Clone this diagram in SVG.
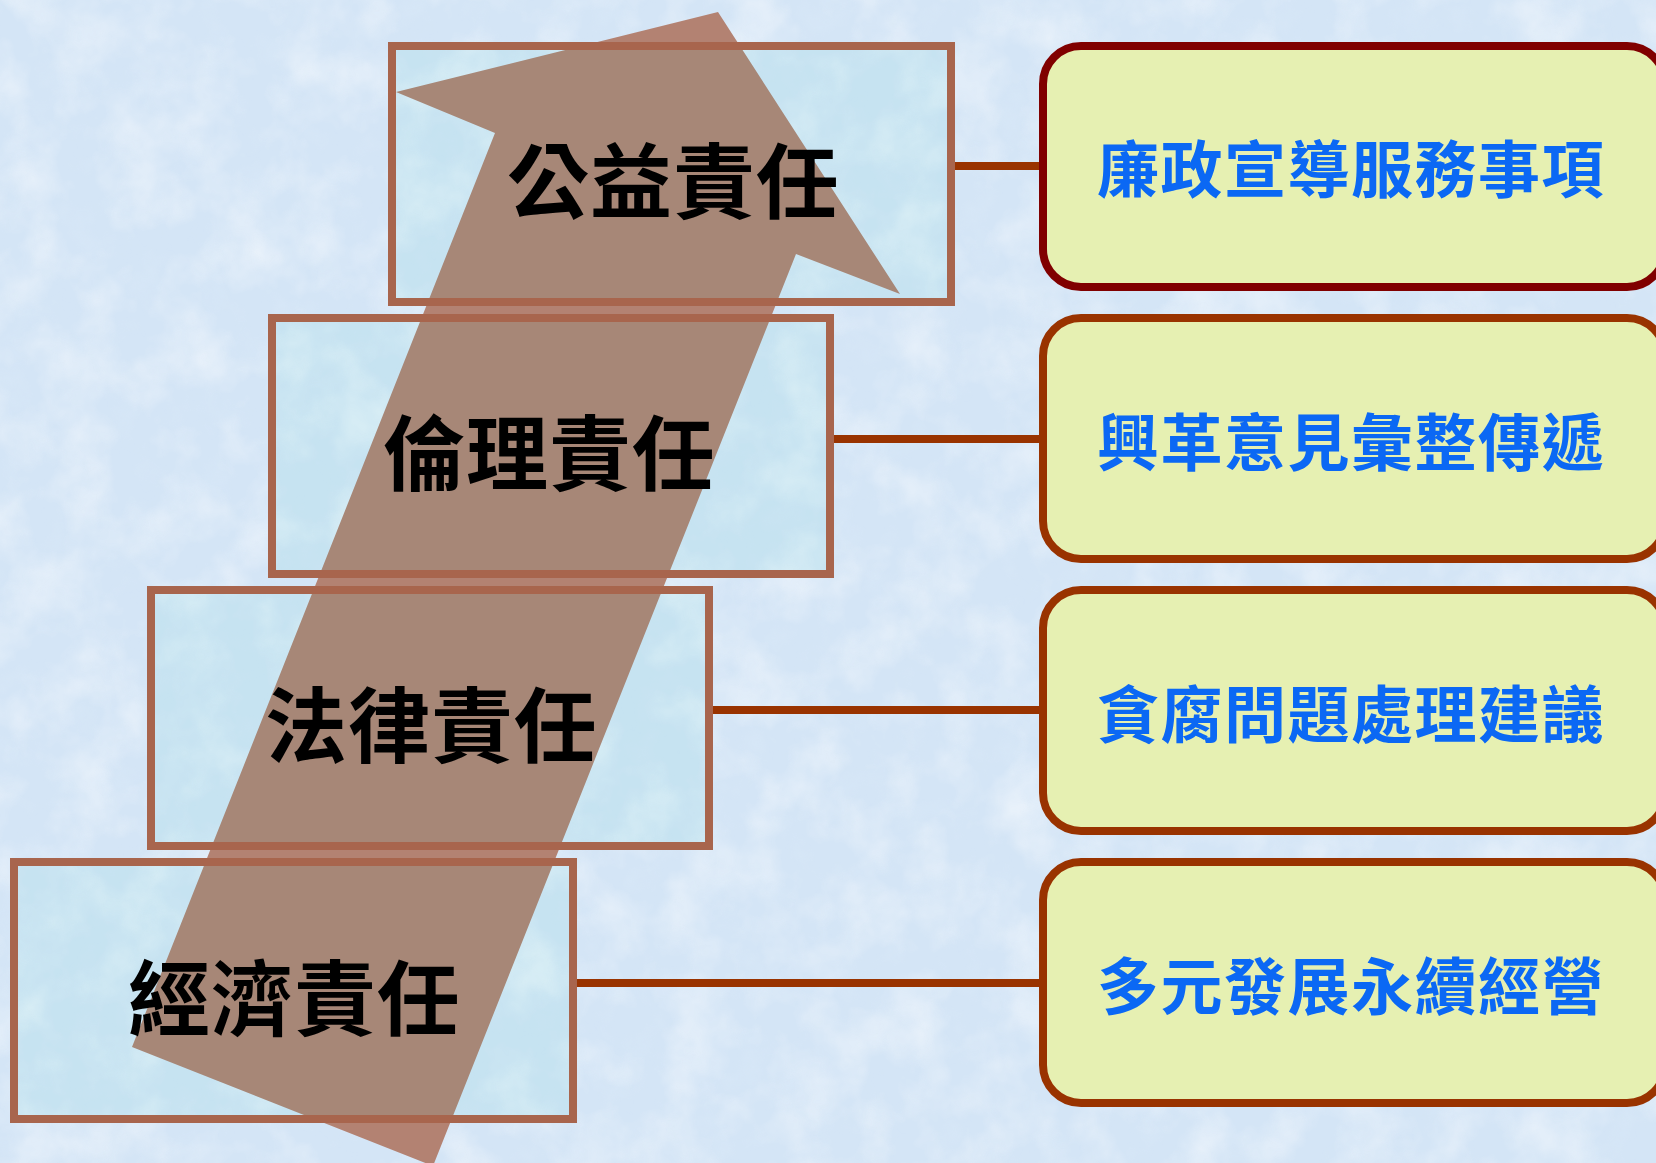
<svg xmlns="http://www.w3.org/2000/svg" width="1656" height="1163" viewBox="0 0 1656 1163">
<defs>
  <filter id="tex" x="0" y="0" width="100%" height="100%" filterUnits="userSpaceOnUse">
    <feTurbulence type="fractalNoise" baseFrequency="0.018" numOctaves="4" seed="7" result="n"/>
    <feColorMatrix in="n" type="matrix" values="0 0 0 0 1  0 0 0 0 1  0 0 0 0 1  0 0 0 1.1 -0.45"/>
  </filter>
  <filter id="tex2" x="0" y="0" width="100%" height="100%" filterUnits="userSpaceOnUse">
    <feTurbulence type="fractalNoise" baseFrequency="0.03" numOctaves="3" seed="11" result="n"/>
    <feColorMatrix in="n" type="matrix" values="0 0 0 0 0.75  0 0 0 0 0.85  0 0 0 0 0.95  0 0 0 0.9 -0.42"/>
  </filter>
  <style>
    .box { fill: #20D0C0; fill-opacity: 0.075; stroke: #A8654D; stroke-width: 8; }
    .item { fill: #E6F0B2; stroke: #993300; stroke-width: 8; }
    .item1 { stroke: #800000; }
    .conn { stroke: #993300; stroke-width: 8; fill: none; }
    .lt { font-family: "Noto Sans CJK TC", "Noto Sans CJK SC", sans-serif; font-size: 82px; font-weight: 700; fill: #000000; text-anchor: middle; letter-spacing: 1px; }
    .rt { font-family: "Noto Sans CJK TC", "Noto Sans CJK SC", sans-serif; font-size: 62px; font-weight: 700; fill: #0B68F4; text-anchor: middle; letter-spacing: 1.5px; }
  </style>
</defs>

<g id="background">
  <rect x="0" y="0" width="1656" height="1163" fill="#D4E5F6"/>
  <rect x="0" y="0" width="1656" height="1163" filter="url(#tex)" opacity="0.8"/>
  <rect x="0" y="0" width="1656" height="1163" filter="url(#tex2)" opacity="0.5"/>
</g>

<g id="arrow">
  <polygon points="718,12 900,294 796,254 433,1166 132,1047 495,133 396,92" fill="#B38272"/>
</g>

<g id="connectors">
  <line class="conn" x1="951" y1="166" x2="1043" y2="166"/>
  <line class="conn" x1="830" y1="439" x2="1043" y2="439"/>
  <line class="conn" x1="709" y1="710" x2="1043" y2="710"/>
  <line class="conn" x1="573" y1="983" x2="1043" y2="983"/>
</g>

<g id="node-public">
  <rect class="box" x="392" y="46" width="559" height="256"/>
  <text class="lt" x="673" y="212">公益責任</text>
</g>
<g id="node-ethics">
  <rect class="box" x="272" y="318" width="558" height="256"/>
  <text class="lt" x="549" y="484">倫理責任</text>
</g>
<g id="node-legal">
  <rect class="box" x="151" y="590" width="558" height="256"/>
  <text class="lt" x="431" y="756">法律責任</text>
</g>
<g id="node-economic">
  <rect class="box" x="14" y="862" width="559" height="257"/>
  <text class="lt" x="294" y="1029">經濟責任</text>
</g>

<g id="item-1">
  <rect class="item item1" x="1043" y="46" width="622" height="241" rx="38" ry="38"/>
  <text class="rt" x="1351" y="193">廉政宣導服務事項</text>
</g>
<g id="item-2">
  <rect class="item" x="1043" y="318" width="622" height="241" rx="38" ry="38"/>
  <text class="rt" x="1351" y="466">興革意見彙整傳遞</text>
</g>
<g id="item-3">
  <rect class="item" x="1043" y="590" width="622" height="241" rx="38" ry="38"/>
  <text class="rt" x="1351" y="738">貪腐問題處理建議</text>
</g>
<g id="item-4">
  <rect class="item" x="1043" y="862" width="622" height="241" rx="38" ry="38"/>
  <text class="rt" x="1351" y="1010">多元發展永續經營</text>
</g>
</svg>
